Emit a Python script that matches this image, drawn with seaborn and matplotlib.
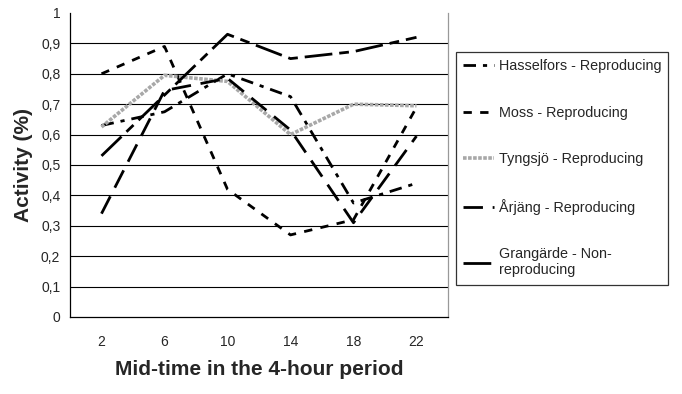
import matplotlib
matplotlib.use("Agg")
import matplotlib.pyplot as plt
import seaborn as sns
import pandas as pd
import numpy as np

hours = [2, 6, 10, 14, 18, 22]
hasselfors = [0.63, 0.675, 0.80, 0.725, 0.375, 0.44]
moss = [0.80, 0.89, 0.42, 0.27, 0.32, 0.69]
tyngsjo = [0.625, 0.795, 0.775, 0.60, 0.70, 0.695]
arjang = [0.34, 0.745, 0.785, 0.615, 0.31, 0.595]
grangarde = [0.53, 0.73, 0.93, 0.85, 0.873, 0.92]

labels = ["Hasselfors - Reproducing", "Moss - Reproducing", "Tyngsjö - Reproducing",
          "Årjäng - Reproducing", "Grangärde - Non-\nreproducing"]
series = [hasselfors, moss, tyngsjo, arjang, grangarde]

sns.set_theme(style="white")
plt.rcParams['font.family'] = ['Liberation Sans', 'DejaVu Sans']

fig = plt.figure(figsize=(6.82, 3.94), dpi=100)
ax = fig.add_axes([70/682, 1-317/394, (448-70)/682, (317-13)/394])

styles = [
    dict(color="black", lw=2.0, dashes=(4.5, 2.5, 1.5, 2.5)),
    dict(color="black", lw=2.0, dashes=(3, 3)),
    dict(color="#a8a8a8", lw=2.6, dashes=(1.0, 0.4)),
    dict(color="black", lw=2.0, dashes=(7, 3.5)),
    dict(color="black", lw=2.0, dashes=(10, 2.5, 3.5, 2.5)),
]

xpos = np.arange(len(hours))
for vals, lab, st in zip(series, labels, styles):
    df = pd.DataFrame({"x": xpos, "y": vals})
    sns.lineplot(data=df, x="x", y="y", ax=ax, label=lab, color=st["color"],
                 linewidth=st["lw"], dashes=False)
    ax.lines[-1].set_dashes(st["dashes"])

# grid
for v in np.arange(0.1, 0.95, 0.1):
    ax.axhline(v, color="black", lw=0.8, zorder=0)

ax.set_xlim(-0.5, len(hours) - 0.5)
ax.set_ylim(0, 1)
ax.set_yticks(np.round(np.arange(0, 1.01, 0.1), 1))
ax.set_yticklabels(["0" if v == 0 else ("1" if v == 1 else f"{v:.1f}".replace(".", ","))
                    for v in np.round(np.arange(0, 1.01, 0.1), 1)], fontsize=10)
ax.set_xticks(np.arange(-0.5, len(hours), 1.0))
ax.set_xticklabels([])
ax.set_xticks(xpos, minor=True)
ax.set_xticklabels([str(h) for h in hours], minor=True, fontsize=10)
ax.tick_params(axis="x", which="major", direction="out", length=5, width=0.8, color="black")
ax.tick_params(axis="x", which="minor", length=0, pad=13)
ax.tick_params(axis="y", direction="out", length=4, width=0.8, color="black", pad=3)

ax.spines["top"].set_visible(False)
ax.spines["right"].set_color("#999999")
ax.spines["left"].set_color("black")
ax.spines["bottom"].set_color("black")
for s in ["left", "bottom", "right"]:
    ax.spines[s].set_linewidth(0.9)

ax.set_xlabel("Mid-time in the 4-hour period", fontsize=15, fontweight="bold", labelpad=8)
ax.set_ylabel("Activity (%)", fontsize=15, fontweight="bold", labelpad=6)

leg = ax.legend(loc="upper left", bbox_to_anchor=(456/682, 1-52/394),
                bbox_transform=fig.transFigure, frameon=True, fancybox=False,
                edgecolor="black", fontsize=10.4, labelspacing=2.25, handlelength=2.1,
                handletextpad=0.35, borderpad=0.5, borderaxespad=0)
leg.get_frame().set_linewidth(0.9)

fig.savefig("out.png", dpi=100)
